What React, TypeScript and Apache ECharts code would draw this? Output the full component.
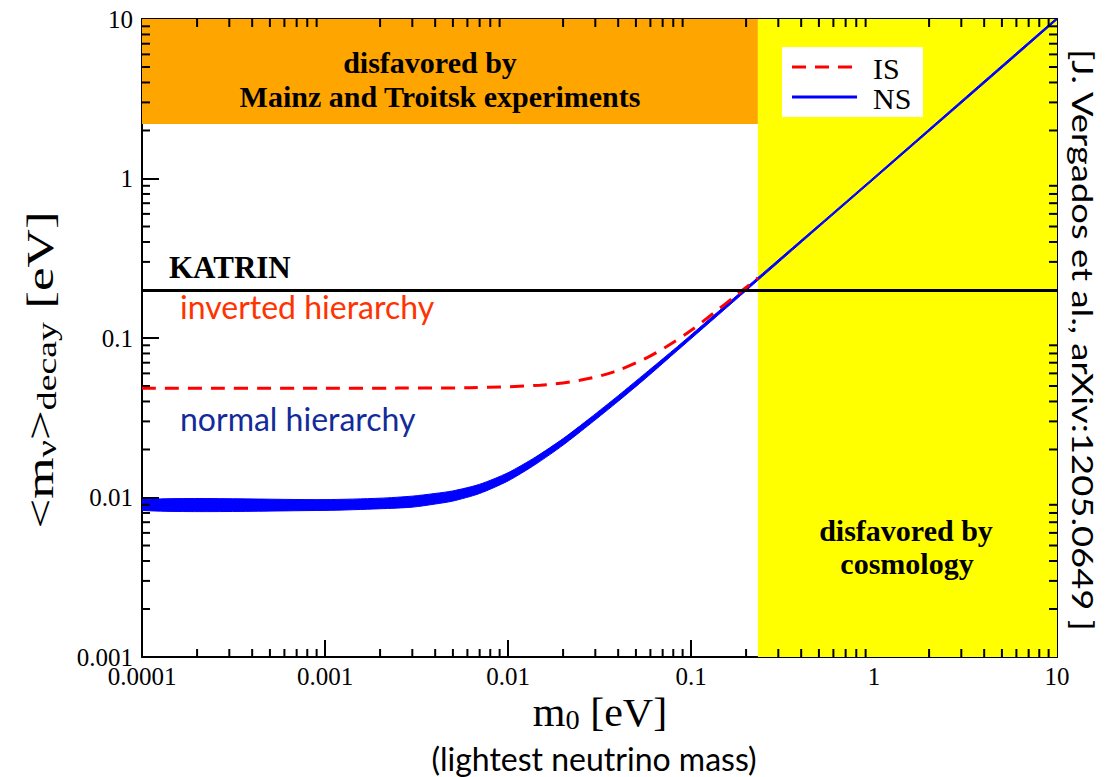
import React, { useEffect, useRef } from 'react';
import * as echarts from 'echarts';

// Axis tick labels (one per decade)
const xTickLabels = ['0.0001', '0.001', '0.01', '0.1', '1', '10'];
const yTickLabels = ['0.001', '0.01', '0.1', '1', '10'];
const xDecades = [0.0001, 0.001, 0.01, 0.1, 1, 10];
const yDecades = [0.001, 0.01, 0.1, 1, 10];
const minorSteps = [2, 3, 4, 5, 6, 7, 8, 9];

// Limits shown as shaded regions / reference line (eV)
const mainzTroitskLimit = 2.2;
const cosmologyLimit = 0.232;
const katrinSensitivity = 0.2;

// Inverted hierarchy (IS): lightest mass m0 vs effective beta-decay mass
const isM0 = [0.0001, 0.001, 0.0025, 0.0062, 0.015, 0.0247, 0.0375, 0.0576, 0.074, 0.099, 0.132, 0.17, 0.21, 0.232];
const isMass = [0.0484, 0.0484, 0.0485, 0.0488, 0.0506, 0.0543, 0.0611, 0.0754, 0.0888, 0.1105, 0.1425, 0.179, 0.217, 0.238];

// Normal hierarchy (NS): lower and upper edge of the band
const nsM0 = [0.0001, 0.001, 0.002, 0.003, 0.004, 0.005, 0.007, 0.01, 0.0141, 0.02, 0.0283, 0.04, 0.0566, 0.08, 0.1, 0.2, 0.5, 1, 10];
const nsLow = [0.0083, 0.0083, 0.0085, 0.0087, 0.0091, 0.0095, 0.0106, 0.0127, 0.0161, 0.0213, 0.0291, 0.0401, 0.056, 0.0792, 0.099, 0.198, 0.496, 0.99, 9.9];
const nsHigh = [0.0097, 0.0097, 0.0099, 0.0102, 0.0106, 0.011, 0.0121, 0.0143, 0.0179, 0.0234, 0.0317, 0.0435, 0.0604, 0.084, 0.1045, 0.207, 0.512, 1.02, 10.2];

const SERIF = 'Liberation Serif';
const SANS = 'Lato';

const X_MIN = xDecades[0];
const X_MAX = xDecades[xDecades.length - 1];
const Y_MIN = yDecades[0];
const Y_MAX = yDecades[yDecades.length - 1];

const MAJOR_LEN = 17;
const MINOR_LEN = 8;
const TICK_W = 2;

function minorValues(decades: number[]) {
  const out: number[] = [];
  decades.forEach((d, i) => {
    if (i < decades.length - 1) minorSteps.forEach((k) => out.push(d * k));
  });
  return out;
}

function logAxis(min: number, max: number, labels: string[] | null, position: string) {
  return {
    type: 'log',
    logBase: 10,
    min,
    max,
    position,
    splitLine: { show: false },
    axisLine: { show: true, onZero: false, lineStyle: { color: '#000', width: 2 } },
    axisTick: { show: true, inside: true, length: MAJOR_LEN, lineStyle: { color: '#000', width: TICK_W } },
    minorTick: { show: false },
    axisLabel: labels
      ? {
          show: true,
          fontFamily: SERIF,
          fontSize: 25,
          color: '#000',
          margin: position === 'bottom' ? 7 : 9,
          formatter: (v: number) => labels[Math.round(Math.log10(v) - Math.log10(min))],
        }
      : { show: false },
  };
}

function textItem(text: string, x: number, y: number, font: string, fill: string, align = 'center') {
  return { type: 'text', z: 10, style: { text, x, y, align, verticalAlign: 'middle', font, fill } };
}

export default function App() {
  const ref = useRef<HTMLDivElement>(null);

  useEffect(() => {
    if (!ref.current) return;
    const chart = echarts.init(ref.current, null, { renderer: 'svg' });

    const xMinor = minorValues(xDecades);
    const yMinor = minorValues(yDecades);

    const graphic: any[] = [
      // legend box
      { type: 'rect', z: 30, shape: { x: 782, y: 47, width: 141, height: 70 }, style: { fill: '#fff' } },
      {
        type: 'line',
        z: 31,
        shape: { x1: 792, y1: 67, x2: 852, y2: 67 },
        style: { stroke: '#ff0000', lineWidth: 3, lineDash: [14, 9] },
      },
      {
        type: 'line',
        z: 31,
        shape: { x1: 792, y1: 97, x2: 857, y2: 97 },
        style: { stroke: '#0000ff', lineWidth: 3 },
      },
      { ...textItem('IS', 873, 68, `30px "${SERIF}"`, '#000', 'left'), z: 31 },
      { ...textItem('NS', 873, 98, `30px "${SERIF}"`, '#000', 'left'), z: 31 },
      textItem('disfavored by', 430, 62, `bold 30px "${SERIF}"`, '#000'),
      textItem('Mainz and Troitsk experiments', 440, 96, `bold 30px "${SERIF}"`, '#000'),
      textItem('disfavored by', 906, 530, `bold 30px "${SERIF}"`, '#000'),
      textItem('cosmology', 907, 563, `bold 30px "${SERIF}"`, '#000'),
      textItem('KATRIN', 169, 267, `bold 31px "${SERIF}"`, '#000', 'left'),
      textItem('inverted hierarchy', 180, 306, `32px "${SANS}"`, '#ff3300', 'left'),
      textItem('normal hierarchy', 180, 418, `32px "${SANS}"`, '#132b9a', 'left'),
      textItem('(lightest neutrino mass)', 594, 758, `32px "${SANS}"`, '#000'),
      {
        // x-axis title
        type: 'text',
        z: 10,
        x: 600,
        y: 712,
        scaleX: 1.05,
        style: {
          text: '{a|m}{s|0}{a| [eV]}',
          x: 0,
          y: 0,
          align: 'center',
          verticalAlign: 'middle',
          rich: {
            a: { fontFamily: SERIF, fontSize: 40, lineHeight: 42, verticalAlign: 'middle', fill: '#000' },
            s: { fontFamily: SERIF, fontSize: 27, lineHeight: 16, verticalAlign: 'bottom', fill: '#000' },
          },
        },
      },
      {
        // y-axis title
        type: 'text',
        z: 10,
        x: 40,
        y: 370,
        rotation: Math.PI / 2,
        scaleX: 1.4,
        style: {
          text: '{a|<m}{s|ν}{a|>}{s|decay}{a| [eV]}',
          x: 0,
          y: 0,
          align: 'center',
          verticalAlign: 'middle',
          rich: {
            a: { fontFamily: SERIF, fontSize: 38, lineHeight: 40, verticalAlign: 'middle', fill: '#000' },
            s: { fontFamily: SERIF, fontSize: 27, lineHeight: 16, verticalAlign: 'bottom', fill: '#000' },
          },
        },
      },
      {
        // citation on the right
        type: 'text',
        z: 10,
        x: 1083,
        y: 340,
        rotation: -Math.PI / 2,
        scaleX: 1.3,
        style: {
          text: '[J. Vergados et al., arXiv:1205.0649 ]',
          x: 0,
          y: 0,
          align: 'center',
          verticalAlign: 'middle',
          font: `28px "${SANS}"`,
          fill: '#000',
        },
      },
    ];

    const option = {
      animation: false,
      backgroundColor: '#fff',
      grid: { left: 142, right: 50, top: 19, bottom: 120 },
      xAxis: [logAxis(X_MIN, X_MAX, xTickLabels, 'bottom'), logAxis(X_MIN, X_MAX, null, 'top')],
      yAxis: [logAxis(Y_MIN, Y_MAX, yTickLabels, 'left'), logAxis(Y_MIN, Y_MAX, null, 'right')],
      series: [
        {
          // shaded exclusion regions and KATRIN line
          type: 'line',
          name: 'regions',
          z: 1,
          data: [[X_MIN, Y_MAX]],
          symbol: 'none',
          lineStyle: { opacity: 0 },
          silent: true,
          markArea: {
            silent: true,
            data: [
              [
                { xAxis: X_MIN, yAxis: mainzTroitskLimit, itemStyle: { color: '#ffa500' } },
                { xAxis: cosmologyLimit, yAxis: Y_MAX },
              ],
              [
                { xAxis: cosmologyLimit, yAxis: Y_MIN, itemStyle: { color: '#ffff00' } },
                { xAxis: X_MAX, yAxis: Y_MAX },
              ],
            ],
          },
          markLine: {
            silent: true,
            symbol: 'none',
            label: { show: false },
            lineStyle: { color: '#000', width: 3, type: 'solid' },
            data: [{ yAxis: katrinSensitivity }],
          },
        },
        {
          type: 'line',
          name: 'IS',
          symbol: 'none',
          smooth: 0.3,
          color: '#ff0000',
          lineStyle: { color: '#ff0000', width: 3, type: [14, 9] },
          data: isM0.map((m, i) => [m, isMass[i]]),
        },
        {
          type: 'custom',
          name: 'NS',
          clip: true,
          data: [[nsM0[0], nsLow[0]]],
          renderItem: (_params: any, api: any) => {
            const pts: number[][] = [];
            for (let i = 0; i < nsM0.length; i++) pts.push(api.coord([nsM0[i], nsLow[i]]));
            for (let i = nsM0.length - 1; i >= 0; i--) pts.push(api.coord([nsM0[i], nsHigh[i]]));
            return {
              type: 'polygon',
              shape: { points: pts, smooth: 0.25 },
              style: { fill: '#0000ff', stroke: '#0000ff', lineWidth: 1 },
            };
          },
        },
        {
          // minor ticks (2..9 in each decade) on all four sides of the frame
          type: 'custom',
          name: 'minor ticks',
          clip: false,
          data: [[0.01, 0.1]],
          renderItem: (_params: any, api: any) => {
            const children: any[] = [];
            const box = (x: number, y: number, w: number, h: number) => {
              children.push({ type: 'rect', shape: { x, y, width: w, height: h }, style: { fill: '#000' } });
            };
            xMinor.forEach((v) => {
              const b = api.coord([v, Y_MIN]);
              const t = api.coord([v, Y_MAX]);
              box(b[0] - TICK_W / 2, b[1] - MINOR_LEN, TICK_W, MINOR_LEN);
              box(t[0] - TICK_W / 2, t[1], TICK_W, MINOR_LEN);
            });
            yMinor.forEach((v) => {
              const l = api.coord([X_MIN, v]);
              const r = api.coord([X_MAX, v]);
              box(l[0], l[1] - TICK_W / 2, MINOR_LEN, TICK_W);
              box(r[0] - MINOR_LEN, r[1] - TICK_W / 2, MINOR_LEN, TICK_W);
            });
            return { type: 'group', children };
          },
        },
      ],
      graphic,
    };

    chart.setOption(option as any);
    return () => chart.dispose();
  }, []);

  return <div ref={ref} style={{ position: 'fixed', left: 0, top: 0, width: 1107, height: 777 }} />;
}
